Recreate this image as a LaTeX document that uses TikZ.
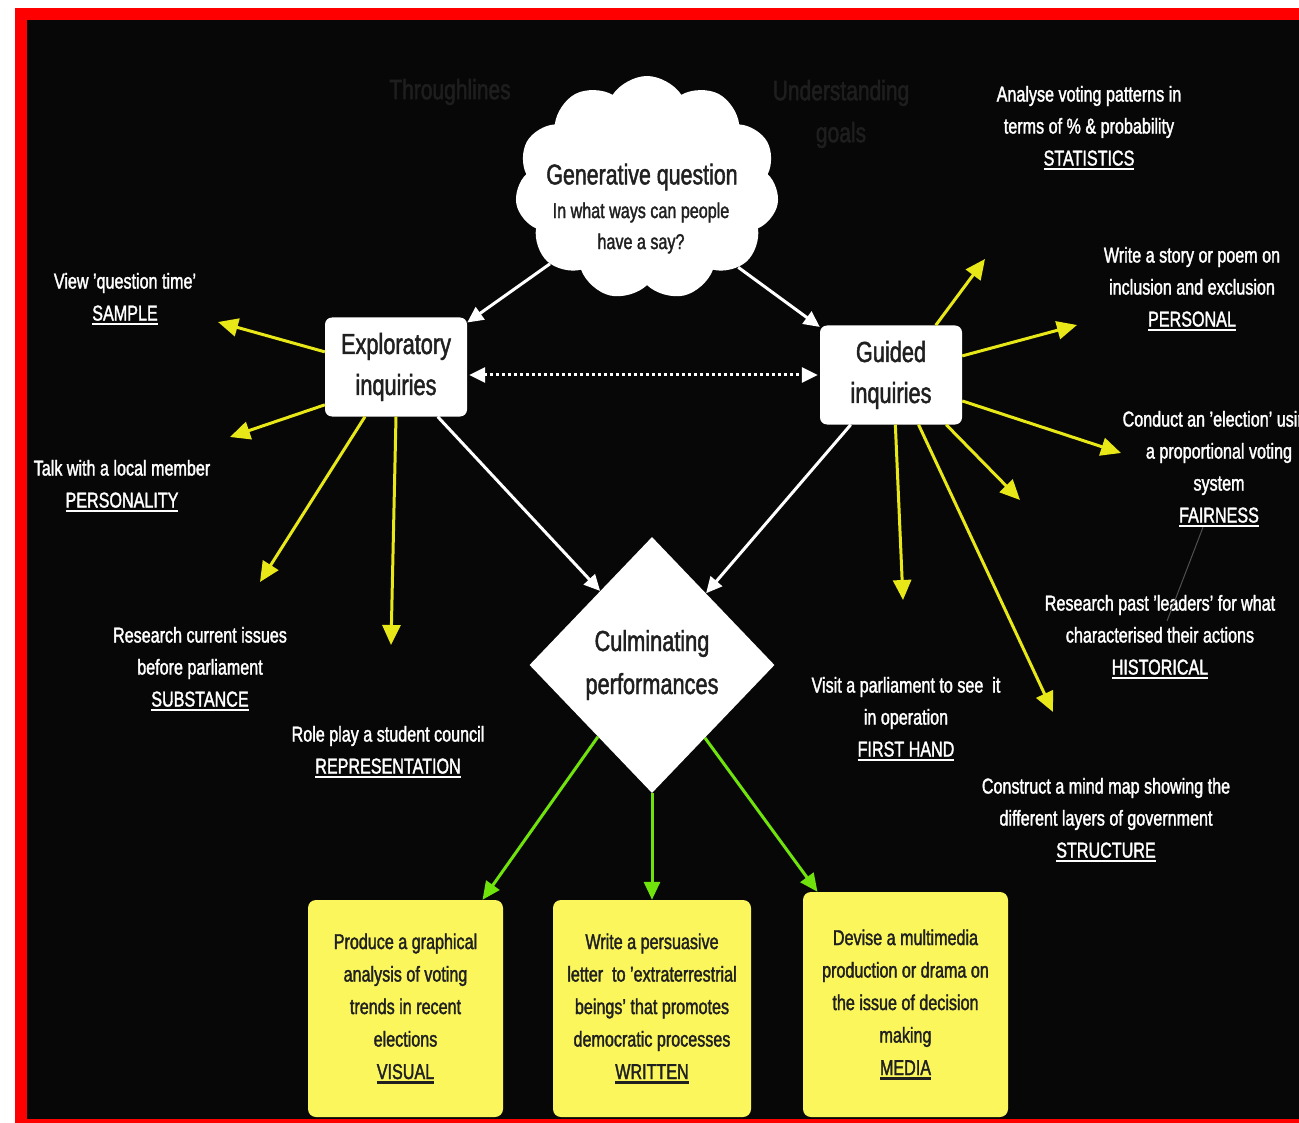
\documentclass[tikz,border=0pt]{standalone}
\usepackage{fontspec}
\setmainfont{Liberation Sans}[FakeStretch=0.75,FakeBold=1.6]
\usetikzlibrary{shapes.geometric,shapes.symbols,arrows.meta}

\definecolor{bg}{RGB}{7,7,7}
\definecolor{framered}{RGB}{255,0,0}
\definecolor{arrowyellow}{RGB}{232,232,24}
\definecolor{boxyellow}{RGB}{250,246,92}
\definecolor{arrowgreen}{RGB}{112,226,12}
\definecolor{inkdark}{RGB}{32,32,32}
\definecolor{faint}{RGB}{30,30,30}
\definecolor{faintline}{RGB}{80,80,80}
\definecolor{rulegray}{RGB}{205,205,205}

% underlined keyword under each activity
\newcommand{\uln}[1]{\setbox0\hbox{#1}\leavevmode\rlap{\rule[-4.5pt]{\wd0}{2.4pt}}\box0}

\tikzset{
  lbl/.style={text=white, align=center, inner sep=0,
    font=\fontsize{21.5}{32}\selectfont},
  inq/.style={rectangle, rounded corners=7, fill=white, text=inkdark,
    align=center, inner sep=0, minimum width=142, minimum height=99,
    font=\fontsize{29}{41}\selectfont},
  ybox/.style={rectangle, rounded corners=8, fill=boxyellow, text=inkdark,
    align=center, inner sep=0, font=\fontsize{21.5}{32.5}\selectfont},
  ylw/.style={draw=arrowyellow, line width=3, -{Triangle[length=20,width=18]}},
  wht/.style={draw=white, line width=3, -{Triangle[length=16,width=15]}},
  grn/.style={draw=arrowgreen, line width=3, -{Triangle[length=18,width=16]}},
}

\begin{document}
\begin{tikzpicture}[x=1pt,y=-1pt]
  % page, red frame and black board
  \fill[white] (0,0) rectangle (1299,1123);
  \fill[framered] (15,8) rectangle (1299,1123);
  \fill[bg] (27,20) rectangle (1299,1119);
  \useasboundingbox (0,0) rectangle (1299,1123);
  \clip (0,0) rectangle (1299,1123);

  % dim headings behind the board
  \node[text=faint, inner sep=0, font=\fontsize{28}{40}\selectfont] (thr) at (450,92) {Throughlines};
  \node[text=faint, inner sep=0, align=center, font=\fontsize{28}{42}\selectfont] (ugoals) at (841,114) {Understanding\\goals};

  % generative question cloud
  \node[cloud, cloud puffs=11, cloud puff arc=115, aspect=1.2, fill=white,
        minimum width=264, minimum height=224] (cloud) at (647,188) {};
  \node[text=inkdark, inner sep=0, font=\fontsize{28.5}{34}\selectfont] (gqtitle) at (642,177) {Generative question};
  \node[text=inkdark, inner sep=0, align=center, font=\fontsize{21.5}{31}\selectfont] (gqsub) at (641,228) {In what ways can people\\have a say?};

  % inquiry boxes
  \node[inq] (expl) at (396,367) {Exploratory\\inquiries};
  \node[inq] (guid) at (891,375) {Guided\\inquiries};

  % culminating performances
  \node[diamond, fill=white, minimum width=245, minimum height=256, inner sep=0,
        text=inkdark, align=center, font=\fontsize{29}{43}\selectfont] (diam) at (652,665) {Culminating\\performances};

  % performance tasks
  \node[ybox, minimum width=195, minimum height=217] (box1) at (405.5,1008.5)
    {Produce a graphical\\analysis of voting\\trends in recent\\elections\\\uln{VISUAL}};
  \node[ybox, minimum width=198, minimum height=217] (box2) at (652,1008.5)
    {Write a persuasive\\letter\ \ to 'extraterrestrial\\beings' that promotes\\democratic processes\\\uln{WRITTEN}};
  \node[ybox, minimum width=205, minimum height=225] (box3) at (905.5,1004.5)
    {Devise a multimedia\\production or drama on\\the issue of decision\\making\\\uln{MEDIA}};

  % exploratory activities
  \node[lbl] (sample) at (125,299) {View 'question time'\\\uln{SAMPLE}};
  \node[lbl] (person) at (122,486) {Talk with a local member\\\uln{PERSONALITY}};
  \node[lbl] (subst) at (200,669) {Research current issues\\before parliament\\\uln{SUBSTANCE}};
  \node[lbl] (repr) at (388,752) {Role play a student council\\\uln{REPRESENTATION}};

  % guided activities
  \node[lbl] (stat) at (1089,128) {Analyse voting patterns in\\terms of \% \& probability\\\uln{STATISTICS}};
  \node[lbl] (pers) at (1192,289) {Write a story or poem on\\inclusion and exclusion\\\uln{PERSONAL}};
  \node[lbl] (fair) at (1219,469) {Conduct an 'election' using\\a proportional voting\\system\\\uln{FAIRNESS}};
  \node[lbl] (hist) at (1160,637) {Research past 'leaders' for what\\characterised their actions\\\uln{HISTORICAL}};
  \node[lbl] (first) at (906,719) {Visit a parliament to see\ \ it\\in operation\\\uln{FIRST HAND}};
  \node[lbl] (struct) at (1106,820) {Construct a mind map showing the\\different layers of government\\\uln{STRUCTURE}};

  % free arrow ends
  \coordinate (tSample) at (218,322);
  \coordinate (tPerson) at (230,437);
  \coordinate (tSubst)  at (260,582);
  \coordinate (tRepr)   at (391,645);
  \coordinate (tStat)   at (985,259);
  \coordinate (tPers)   at (1077,325);
  \coordinate (tFair)   at (1121,453);
  \coordinate (tHist)   at (1020,500);
  \coordinate (tStruct) at (1053,712);
  \coordinate (tFirst)  at (903,600);
  \coordinate (tLink)   at (1167,621);

  % question to inquiries
  \draw[wht] (cloud.218) -- (expl.32);
  \draw[wht] (cloud.-41) -- (guid.146);
  \draw[draw=white, line width=3, dash pattern=on 3pt off 3pt,
        {Triangle[length=16,width=15]}-{Triangle[length=16,width=15]}]
        ([xshift=2]expl.east |- guid.west) -- ([xshift=-2]guid.west);

  % inquiries to culminating performances
  \draw[wht] (expl.-50) -- (diam.125);
  \draw[wht] (guid.-129) -- (diam.53);

  % exploratory branches
  \draw[ylw] (expl.168) -- (tSample);
  \draw[ylw] (expl.208) -- (tPerson);
  \draw[ylw] (expl.238) -- (tSubst);
  \draw[ylw] (expl.south) -- (tRepr);

  % guided branches
  \draw[ylw] (guid.48.7) -- (tStat);
  \draw[ylw] (guid.15.7) -- (tPers);
  \draw[ylw] (guid.-20.8) -- (tFair);
  \draw[ylw] (guid.-42.8) -- (tHist);
  \draw[ylw] (guid.-61.6) -- (tStruct);
  \draw[ylw] (guid.-85.4) -- (tFirst);

  \draw[faintline, line width=1] ([xshift=-16]fair.south) -- (tLink);

  % culminating performances to tasks
  \draw[grn] (diam.233) -- ([xshift=77]box1.north);
  \draw[grn] (diam.south) -- (box2.north);
  \draw[grn] (diam.-54) -- ([xshift=-88]box3.north);
\end{tikzpicture}
\end{document}
